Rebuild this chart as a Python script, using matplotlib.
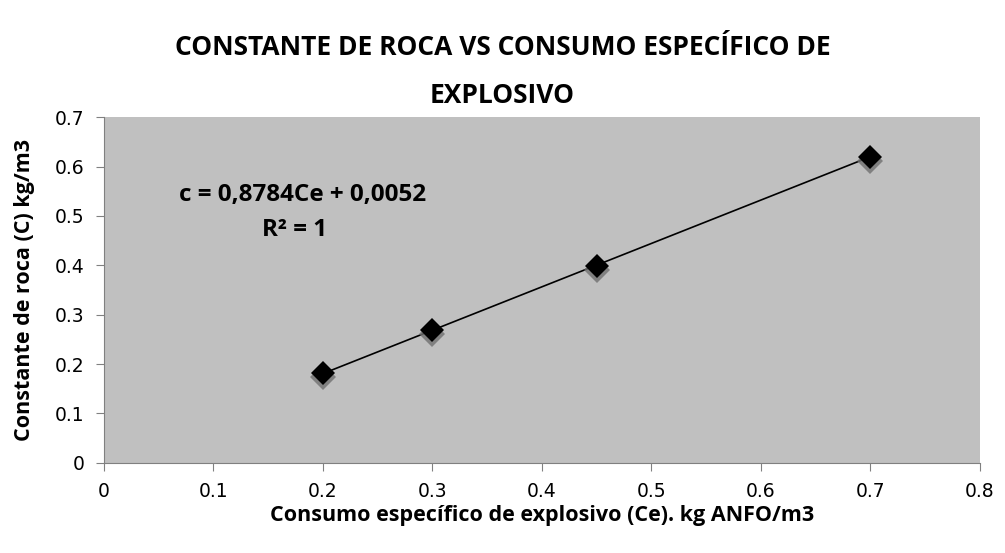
import matplotlib
matplotlib.use("Agg")
import matplotlib.pyplot as plt
import numpy as np

ce = [0.2, 0.3, 0.45, 0.7]
c = [0.181, 0.269, 0.398, 0.620]
slope, intercept = 0.8784, 0.0052
x_ticks = [0, 0.1, 0.2, 0.3, 0.4, 0.5, 0.6, 0.7, 0.8]
y_ticks = [0, 0.1, 0.2, 0.3, 0.4, 0.5, 0.6, 0.7]

fig = plt.figure(figsize=(10.05, 5.53), dpi=100)
ax = fig.add_axes([0.1035, 0.163, 0.8715, 0.625])
ax.set_facecolor("#c0c0c0")
ax.set_xlim(0, 0.8)
ax.set_ylim(0, 0.7)

xs = np.array([min(ce), max(ce)])
ax.plot(xs, slope * xs + intercept, color="black", lw=1.2, zorder=2)
# shadow
ax.plot(ce, np.array(c) - 0.008, linestyle="none", marker="D", ms=13,
        color="#707070", markeredgewidth=0, alpha=0.8, zorder=3)
ax.plot(ce, c, linestyle="none", marker="D", ms=12, color="black",
        markeredgewidth=0, zorder=4)

ax.set_xticks(x_ticks)
ax.set_xticklabels([f"{v:g}" for v in x_ticks])
ax.set_yticks(y_ticks)
ax.set_yticklabels([f"{v:g}" for v in y_ticks])
ax.tick_params(axis="both", labelsize=13.5, color="#808080", length=6, direction="out")
ax.tick_params(axis="y", pad=8)
ax.tick_params(axis="x", pad=8)
for s in ["top", "right"]:
    ax.spines[s].set_visible(False)
for s in ["left", "bottom"]:
    ax.spines[s].set_color("#808080")

ax.set_xlabel("Consumo específico de explosivo (Ce). kg ANFO/m3", fontsize=15.5,
              fontweight="bold", family="Open Sans", labelpad=3)
ax.set_ylabel("Constante de roca (C) kg/m3", fontsize=15.5, fontweight="bold",
              family="Open Sans", labelpad=14)
ax.xaxis.label.set_fontstretch("normal")

fig.text(0.5, 0.915, "CONSTANTE DE ROCA VS CONSUMO ESPECÍFICO DE", ha="center",
         va="center", fontsize=19, fontweight="bold", family="Open Sans")
fig.text(0.5, 0.827, "EXPLOSIVO", ha="center", va="center", fontsize=19,
         fontweight="bold", family="Open Sans")

ax.text(0.181, 0.542, "c = 0,8784Ce + 0,0052", ha="center", va="center",
        fontsize=17.5, fontweight="bold", family="Open Sans")
ax.text(0.174, 0.471, "R² = 1", ha="center", va="center",
        fontsize=17.5, fontweight="bold", family="Open Sans")

fig.savefig("out.png", dpi=100)
